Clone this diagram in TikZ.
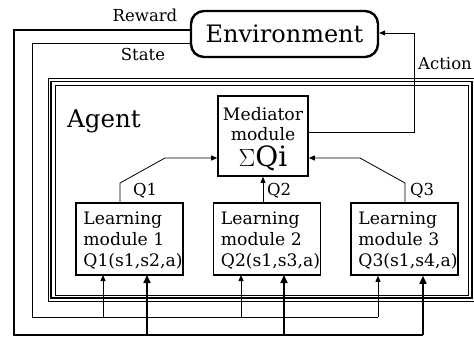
\documentclass[tikz,border=0pt]{standalone}
\usepackage{fontspec}
\setmainfont{DejaVu Serif}
\usetikzlibrary{arrows.meta}
\begin{document}
\begin{tikzpicture}[x=1pt,y=-1pt,
  boxtext/.style={font=\fontsize{17.2}{21}\selectfont, inner sep=0pt},
  lbl/.style={font=\fontsize{16.5}{20}\selectfont, inner sep=0pt},
  modbox/.style={draw, line width=1.6pt, minimum width=107pt, minimum height=72pt, inner sep=0pt},
  thinline/.style={line width=0.8pt},
  thickline/.style={line width=1.6pt},
  thintip/.style={-{Triangle[length=6pt,width=5pt]}},
  thicktip/.style={-{Triangle[length=8pt,width=7pt]}}]
\useasboundingbox (0,0) rectangle (474,340);

% Environment
\node[draw, line width=2.4pt, rounded corners=13pt, minimum width=187pt,
      minimum height=46pt, font=\fontsize{24}{28}\selectfont] (env) at (284.5,34) {Environment};

% Agent frame: thin / thick / thin
\draw[thinline] (48,78) rectangle (480,301);
\draw[thickline] (51,81.5) rectangle (472,298);
\draw[thinline] (55,85) rectangle (468.5,295);
\node[font=\fontsize{24.5}{28}\selectfont, inner sep=0pt, anchor=base west] (agent) at (67,127) {Agent};

% Mediator module
\node[draw, line width=1.6pt, minimum width=90pt, minimum height=80pt, inner sep=0pt] (med) at (263,136) {};
\node[boxtext, anchor=base] (medA) at (263,120) {Mediator};
\node[boxtext, anchor=base] (medB) at (263,140) {module};
\node[font=\fontsize{28}{32}\selectfont, inner sep=0pt, anchor=base] (medC) at (263,166) {$\Sigma$Qi};

% Learning modules
\node[modbox] (lm1) at (129.5,239) {};
\node[modbox] (lm2) at (267,239) {};
\node[modbox] (lm3) at (404.5,239) {};
\foreach \m/\s in {1/2,2/3,3/4}{
  \node[boxtext, anchor=base west] (lm\m a) at ([xshift=8pt,yshift=-22pt]lm\m.north west) {Learning};
  \node[boxtext, anchor=base west] (lm\m b) at ([xshift=8pt,yshift=-43pt]lm\m.north west) {module \m};
  \node[boxtext, anchor=base west] (lm\m c) at ([xshift=8pt,yshift=-64pt]lm\m.north west) {Q\m(s1,s\s,a)};
}

% Q values to the mediator
\coordinate (q1a) at (120,183);
\coordinate (q1b) at (165,158);
\draw[thinline, thintip] (lm1.north -| q1a) -- (q1a) -- (q1b) -- (q1b -| med.west);
\coordinate (q3a) at (405,183);
\coordinate (q3b) at (360,158);
\draw[thinline, thintip] (lm3.north -| q3a) -- (q3a) -- (q3b) -- (q3b -| med.east);
\draw[thinline, thintip] (med.south |- lm2.north) -- (med.south);
\node[lbl, anchor=base west] (q1l) at (133,195) {Q1};
\node[lbl, anchor=base west] (q2l) at (267,195) {Q2};
\node[lbl, anchor=base west] (q3l) at (410,195) {Q3};

% Action
\coordinate (act1) at (414,132);
\coordinate (act2) at (414,33);
\draw[thinline, thintip] (med.east |- act1) -- (act1) -- (act2) -- (act2 -| env.east);
\node[lbl, anchor=base west] (actl) at (418,69) {Action};

% Reward loop
\coordinate (rw1) at (14,30);
\coordinate (rw2) at (14,335);
\coordinate (rw3) at (423,335);
\draw[thickline] (env.west |- rw1) -- (rw1) -- (rw2) -- (rw3);
\draw[thickline, thicktip] (rw3) -- (rw3 |- lm3.south);
\draw[thickline, thicktip] (284,335) -- (284,275);
\draw[thickline, thicktip] (147,335) -- (147,275);
\node[lbl, anchor=base] (rwl) at (145,21) {Reward};

% State loop
\coordinate (st1) at (32,43);
\coordinate (st2) at (32,317);
\coordinate (st3) at (378,317);
\draw[thinline] (env.west |- st1) -- (st1) -- (st2) -- (st3);
\draw[thinline, thintip] (st3) -- (st3 |- lm3.south);
\draw[thinline, thintip] (241,317) -- (241,275);
\draw[thinline, thintip] (103,317) -- (103,275);
\node[lbl, anchor=base] (stl) at (143,60) {State};
\end{tikzpicture}
\end{document}
